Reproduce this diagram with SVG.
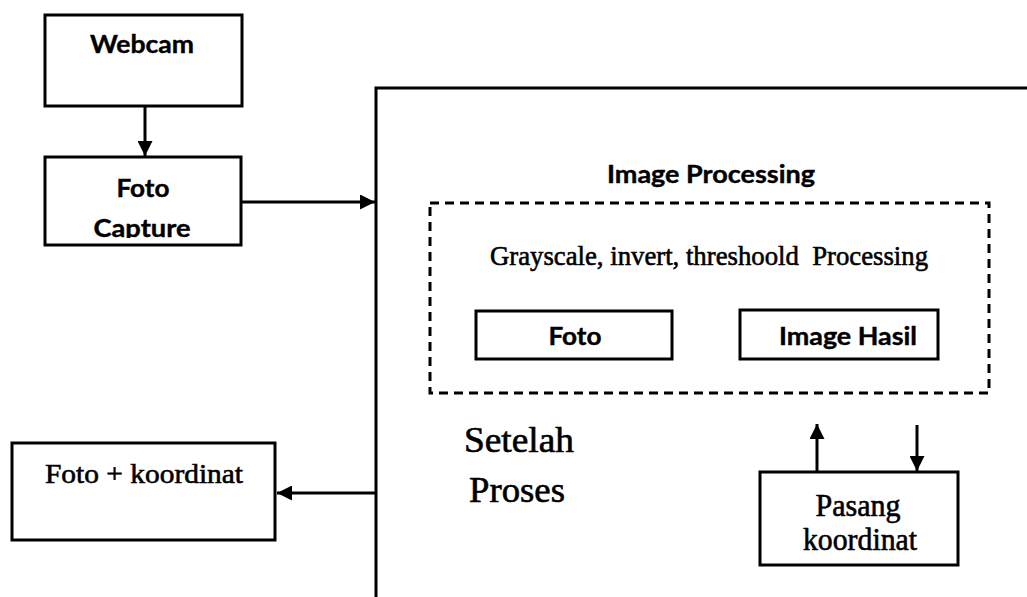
<svg xmlns="http://www.w3.org/2000/svg" width="1027" height="597" viewBox="0 0 1027 597">
  <style>
    .box { fill: #fff; stroke: #000; stroke-width: 3; }
    .dash { fill: none; stroke: #000; stroke-width: 3; stroke-dasharray: 9 6; }
    .line { fill: none; stroke: #000; stroke-width: 3; }
    .sans { font-family: Lato, "Open Sans", "Liberation Sans", sans-serif; font-weight: bold; font-size: 25px; fill: #000; stroke: #000; stroke-width: 0.4; text-anchor: middle; }
    .serif { font-family: "Liberation Serif", "Times New Roman", serif; fill: #000; stroke: #000; stroke-width: 0.6; text-anchor: middle; }
  </style>
  <defs>
    <marker id="arrow" viewBox="0 0 10 10" refX="10" refY="5" markerWidth="5" markerHeight="5" markerUnits="strokeWidth" orient="auto">
      <path d="M0,0 L10,5 L0,10 Z" fill="#000"/>
    </marker>
    <clipPath id="capture-clip">
      <rect x="45" y="157" width="196" height="81"/>
    </clipPath>
  </defs>
  <rect width="1027" height="597" fill="#fff"/>

  <!-- outer processing frame (open on the right and bottom) -->
  <g id="frame">
    <path class="line" d="M1027,88 L376,88 L376,597"/>
  </g>

  <g id="webcam">
    <rect class="box" x="45" y="15" width="197" height="91"/>
    <text class="sans" x="142" y="53" textLength="104" lengthAdjust="spacingAndGlyphs">Webcam</text>
  </g>

  <g id="foto-capture">
    <rect class="box" x="45" y="157" width="196" height="88"/>
    <text class="sans" x="143" y="197" font-size="27" textLength="53" lengthAdjust="spacingAndGlyphs">Foto</text>
    <text class="sans" x="142" y="237" font-size="27" textLength="97" lengthAdjust="spacingAndGlyphs" clip-path="url(#capture-clip)">Capture</text>
  </g>

  <g id="image-processing">
    <text class="sans" x="711" y="183" textLength="208" lengthAdjust="spacingAndGlyphs">Image Processing</text>
    <rect class="dash" x="430" y="203" width="559" height="190"/>
    <text class="serif" x="709" y="265" font-size="28" textLength="438" lengthAdjust="spacingAndGlyphs" xml:space="preserve">Grayscale, invert, threshoold  Processing</text>
  </g>

  <g id="foto">
    <rect class="box" x="476" y="311" width="196" height="48"/>
    <text class="sans" x="575" y="345" textLength="53" lengthAdjust="spacingAndGlyphs">Foto</text>
  </g>

  <g id="image-hasil">
    <rect class="box" x="740" y="310" width="198" height="49"/>
    <text class="sans" x="848" y="345" textLength="138" lengthAdjust="spacingAndGlyphs">Image Hasil</text>
  </g>

  <g id="setelah-proses">
    <text class="serif" x="519" y="452" font-size="35" textLength="110" lengthAdjust="spacingAndGlyphs">Setelah</text>
    <text class="serif" x="517" y="502" font-size="35" textLength="96" lengthAdjust="spacingAndGlyphs">Proses</text>
  </g>

  <g id="pasang-koordinat">
    <rect class="box" x="760" y="472" width="198" height="93"/>
    <text class="serif" x="858" y="516" font-size="31" textLength="85" lengthAdjust="spacingAndGlyphs">Pasang</text>
    <text class="serif" x="860" y="550" font-size="31" textLength="114" lengthAdjust="spacingAndGlyphs">koordinat</text>
  </g>

  <g id="foto-koordinat">
    <rect class="box" x="12" y="443" width="263" height="97"/>
    <text class="serif" x="144" y="483" font-size="28" textLength="198" lengthAdjust="spacingAndGlyphs">Foto + koordinat</text>
  </g>

  <g id="connectors">
    <line class="line" x1="145" y1="106" x2="145" y2="156" marker-end="url(#arrow)"/>
    <line class="line" x1="241" y1="202" x2="375" y2="202" marker-end="url(#arrow)"/>
    <line class="line" x1="376" y1="493" x2="277" y2="493" marker-end="url(#arrow)"/>
    <line class="line" x1="817" y1="471" x2="817" y2="424" marker-end="url(#arrow)"/>
    <line class="line" x1="917" y1="425" x2="917" y2="471" marker-end="url(#arrow)"/>
  </g>
</svg>
